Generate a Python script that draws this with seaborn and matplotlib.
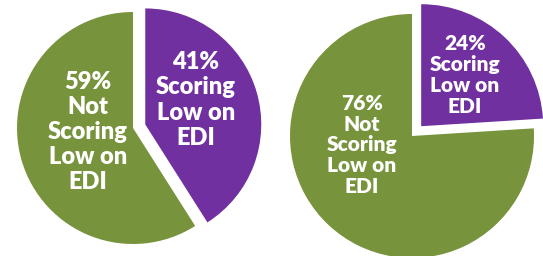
import matplotlib
matplotlib.use("Agg")
import matplotlib.pyplot as plt
import seaborn as sns

sns.set_theme(style="white")
plt.rcParams['font.family'] = ['Lato', 'DejaVu Sans']

# values: share scoring low / not low on EDI
groups = ['left', 'right']
low_share = [41, 24]
not_low_share = [59, 76]
low_labels = ['41%\nScoring\nLow on\nEDI', '24%\nScoring\nLow on\nEDI']
not_low_labels = ['59%\nNot\nScoring\nLow on\nEDI', '76%\nNot\nScoring\nLow on\nEDI']

green = '#77933C'
purple = '#7030A0'

fig = plt.figure(figsize=(5.43, 2.56), dpi=100)
ax = fig.add_axes([0, 0, 1, 1])

# pie layout in pixel space (centre, radius, label offsets, font size)
layout = {
    'left': dict(center=(133, 128), radius=116, low_xy=(196, 156), not_xy=(88, 124), fs=17, ls=1.17),
    'right': dict(center=(412, 120), radius=122, low_xy=(465, 181), not_xy=(362, 111), fs=15, ls=1.12),
}

for g, lo, no, ll, nl in zip(groups, low_share, not_low_share, low_labels, not_low_labels):
    lay = layout[g]
    ax.pie([lo, no], colors=[purple, green], startangle=90, counterclock=False,
           explode=[0.11 * lay['radius'], 0], center=lay['center'], radius=lay['radius'],
           wedgeprops=dict(linewidth=0), frame=True)
    ax.text(*lay['low_xy'], ll, ha='center', va='center', color='white',
            fontsize=lay['fs'], fontweight='heavy', linespacing=lay['ls'])
    ax.text(*lay['not_xy'], nl, ha='center', va='center', color='white',
            fontsize=lay['fs'], fontweight='heavy', linespacing=lay['ls'])

ax.set_xlim(0, 543)
ax.set_ylim(0, 256)
ax.set_aspect('equal')
ax.axis('off')
fig.savefig('out.png', dpi=100, facecolor='white')
